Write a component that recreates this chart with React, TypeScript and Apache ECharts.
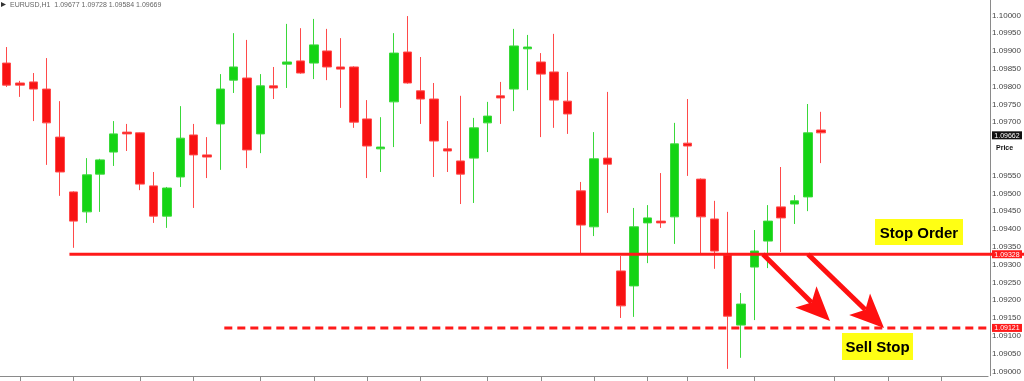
import React, { useEffect, useRef } from "react";
import * as echarts from "echarts";

const categories = [
  "03/04 00:00","03/04 01:00","03/04 02:00","03/04 03:00","03/04 04:00","03/04 05:00","03/04 06:00","03/04 07:00",
  "03/04 08:00","03/04 09:00","03/04 10:00","03/04 11:00","03/04 12:00","03/04 13:00","03/04 14:00","03/04 15:00",
  "03/04 16:00","03/04 17:00","03/04 18:00","03/04 19:00","03/04 20:00","03/04 21:00","03/04 22:00","03/04 23:00",
  "03/05 00:00","03/05 01:00","03/05 02:00","03/05 03:00","03/05 04:00","03/05 05:00","03/05 06:00","03/05 07:00",
  "03/05 08:00","03/05 09:00","03/05 10:00","03/05 11:00","03/05 12:00","03/05 13:00","03/05 14:00","03/05 15:00",
  "03/05 16:00","03/05 17:00","03/05 18:00","03/05 19:00","03/05 20:00","03/05 21:00","03/05 22:00","03/05 23:00",
  "03/06 00:00","03/06 01:00","03/06 02:00","03/06 03:00","03/06 04:00","03/06 05:00","03/06 06:00","03/06 07:00",
  "03/06 08:00","03/06 09:00","03/06 10:00","03/06 11:00","03/06 12:00","03/06 13:00","03/06 14:00","03/06 15:00",
  "03/06 16:00","03/06 17:00","03/06 18:00","03/06 19:00","03/06 20:00","03/06 21:00","03/06 22:00","03/06 23:00",
  "03/07 00:00","03/07 01:00"
];

const opens = [
  1.09865,1.09809,1.09812,1.09792,1.09657,1.09503,1.09447,1.09553,1.09615,1.09671,
  1.09669,1.09520,1.09435,1.09545,1.09663,1.09607,1.09694,1.09817,1.09823,1.09666,
  1.09801,1.09862,1.09871,1.09865,1.09899,1.09854,1.09854,1.09708,1.09624,1.09756,
  1.09896,1.09787,1.09764,1.09624,1.09590,1.09598,1.09697,1.09773,1.09792,1.09905,
  1.09868,1.09840,1.09758,1.09506,1.09405,1.09598,1.09281,1.09239,1.09416,1.09421,
  1.09433,1.09640,1.09539,1.09427,1.09326,1.09129,1.09292,1.09365,1.09461,1.09469,
  1.09489,1.09677
];
const closes = [
  1.09803,1.09803,1.09792,1.09697,1.09559,1.09421,1.09551,1.09593,1.09666,1.09666,
  1.09525,1.09435,1.09514,1.09654,1.09607,1.09601,1.09792,1.09854,1.09621,1.09801,
  1.09795,1.09868,1.09837,1.09916,1.09854,1.09848,1.09699,1.09632,1.09629,1.09893,
  1.09809,1.09764,1.09646,1.09618,1.09553,1.09683,1.09716,1.09767,1.09913,1.09910,
  1.09834,1.09761,1.09722,1.09410,1.09596,1.09581,1.09183,1.09405,1.09430,1.09416,
  1.09638,1.09632,1.09433,1.09337,1.09154,1.09188,1.09337,1.09421,1.09430,1.09478,
  1.09669,1.09669
];
const lows = [
  1.09798,1.09770,1.09702,1.09579,1.09492,1.09346,1.09416,1.09447,1.09576,1.09618,
  1.09508,1.09416,1.09402,1.09517,1.09458,1.09542,1.09565,1.09781,1.09570,1.09612,
  1.09764,1.09795,1.09835,1.09820,1.09817,1.09739,1.09683,1.09542,1.09559,1.09629,
  1.09807,1.09694,1.09545,1.09559,1.09469,1.09472,1.09615,1.09694,1.09730,1.09789,
  1.09657,1.09683,1.09666,1.09326,1.09379,1.09444,1.09149,1.09152,1.09303,1.09402,
  1.09357,1.09548,1.09331,1.09287,1.09006,1.09037,1.09143,1.09289,1.09334,1.09413,
  1.09449,1.09584
];
const highs = [
  1.09910,1.09815,1.09837,1.09879,1.09758,1.09505,1.09598,1.09596,1.09702,1.09694,
  1.09670,1.09559,1.09517,1.09744,1.09694,1.09657,1.09834,1.09949,1.09930,1.09834,
  1.09854,1.09975,1.09963,1.09989,1.09961,1.09935,1.09856,1.09761,1.09713,1.09949,
  1.09997,1.09882,1.09809,1.09702,1.09773,1.09711,1.09756,1.09812,1.09961,1.09944,
  1.09893,1.09947,1.09840,1.09531,1.09671,1.09784,1.09323,1.09458,1.09466,1.09556,
  1.09697,1.09764,1.09541,1.09478,1.09447,1.09219,1.09396,1.09466,1.09573,1.09494,
  1.09750,1.09728
];

const yMin = 1.09;
const yMax = 1.1;
const yInterval = 0.0005;
const hiddenTickLabels = ["1.09650", "1.09600"];
const stopLevel = 1.09328;
const sellStopLevel = 1.09121;
const lastPrice = 1.09662;
const tickIndices = [1, 5, 10, 14, 19, 23, 27, 31, 36, 40, 44, 48, 51, 56, 62, 66, 70];
const titleText = "EURUSD,H1  1.09677 1.09728 1.09584 1.09669";
const priceTag = "Price";
const stopLabel = "Stop Order";
const sellLabel = "Sell Stop";

const RED = "#f81212";
const GREEN = "#14d414";

function arrow(x1: number, y1: number, x2: number, y2: number, headLen = 34, headHalf = 15, notch = 8) {
  const dx = x2 - x1, dy = y2 - y1;
  const L = Math.hypot(dx, dy);
  const ux = dx / L, uy = dy / L, nx = -uy, ny = ux;
  const bx = x2 - ux * headLen, by = y2 - uy * headLen;
  const mx = bx + ux * notch, my = by + uy * notch;
  return [
    { type: "line", z: 50, shape: { x1, y1, x2: mx, y2: my }, style: { stroke: "#ff1010", lineWidth: 5 } },
    {
      type: "polygon", z: 50,
      shape: { points: [[x2, y2], [bx + nx * headHalf, by + ny * headHalf], [mx, my], [bx - nx * headHalf, by - ny * headHalf]] },
      style: { fill: "#ff1010" },
    },
  ];
}

export default function App() {
  const ref = useRef<HTMLDivElement>(null);
  useEffect(() => {
    const chart = echarts.init(ref.current!, null, { renderer: "svg" });
    const candles = opens.map((o, i) => [o, closes[i], lows[i], highs[i]]);
    chart.setOption({
      animation: false,
      grid: { left: 0, right: 34, top: 15, bottom: 10 },
      xAxis: {
        type: "category",
        data: categories,
        boundaryGap: true,
        offset: 5,
        axisLine: { lineStyle: { color: "#8a8a8a", width: 1 } },
        axisTick: {
          show: true,
          alignWithLabel: true,
          length: 5,
          interval: (i: number) => tickIndices.includes(i),
          lineStyle: { color: "#8a8a8a" },
        },
        axisLabel: { show: false },
        splitLine: { show: false },
      },
      yAxis: {
        type: "value",
        position: "right",
        min: yMin,
        max: yMax,
        interval: yInterval,
        axisLine: { show: false },
        axisTick: { show: false },
        splitLine: { show: false },
        axisLabel: {
          fontSize: 8,
          color: "#444",
          margin: 4,
          fontFamily: "Liberation Sans, Arial, sans-serif",
          formatter: (v: number) => {
            const s = v.toFixed(5);
            return hiddenTickLabels.includes(s) ? "" : s;
          },
        },
      },
      series: [
        {
          type: "candlestick",
          data: candles,
          barWidth: 9,
          clip: false,
          itemStyle: {
            color: GREEN,
            color0: RED,
            borderColor: "#3ad83a",
            borderColor0: "#ff4a4a",
            borderWidth: 1,
          },
        },
      ],
    });

    const py = (v: number) => chart.convertToPixel({ yAxisIndex: 0 }, v) as number;
    const px = (c: string) => chart.convertToPixel({ xAxisIndex: 0 }, c) as number;
    const ySolid = py(stopLevel);
    const yDash = py(sellStopLevel);
    const yLast = py(lastPrice);
    const xSolid = px(categories[5]) - 4;
    const xDash = px(categories[16]) + 4;
    const axisX = 990.5;

    const levelBox = (y: number, v: number, bg: string) => [
      { type: "rect", z: 60, shape: { x: 992, y: y - 4, width: 30, height: 8 }, style: { fill: bg } },
      {
        type: "text", z: 61, x: 1007, y: y,
        style: { text: v.toFixed(5), fill: "#fff", font: "7px Liberation Sans, Arial, sans-serif", align: "center", verticalAlign: "middle" },
      },
    ];

    chart.setOption({
      graphic: [
        { type: "line", z: 40, shape: { x1: axisX, y1: 0, x2: axisX, y2: 376 }, style: { stroke: "#8a8a8a", lineWidth: 1 } },
        { type: "line", z: 45, shape: { x1: xSolid, y1: ySolid, x2: 1024, y2: ySolid }, style: { stroke: "#ff1a1a", lineWidth: 3 } },
        { type: "line", z: 45, shape: { x1: xDash, y1: yDash, x2: 990, y2: yDash }, style: { stroke: "#ff1a1a", lineWidth: 3, lineDash: [8, 5] } },
        ...arrow(763, ySolid, 830, yDash - 7),
        ...arrow(808, ySolid, 884, yDash),
        ...levelBox(ySolid, stopLevel, "#ff1a1a"),
        ...levelBox(yDash, sellStopLevel, "#ff1a1a"),
        ...levelBox(yLast, lastPrice, "#111"),
        {
          type: "text", z: 61, x: 996, y: yLast + 12,
          style: { text: priceTag, fill: "#111", font: "bold 7px Liberation Sans, Arial, sans-serif", verticalAlign: "middle" },
        },
        { type: "rect", z: 70, shape: { x: 875, y: 219, width: 88, height: 26 }, style: { fill: "#ffff14" } },
        {
          type: "text", z: 71, x: 919, y: 232,
          style: { text: stopLabel, fill: "#000", font: "bold 15px Liberation Sans, Arial, sans-serif", align: "center", verticalAlign: "middle" },
        },
        { type: "rect", z: 70, shape: { x: 842, y: 333, width: 71, height: 27 }, style: { fill: "#ffff14" } },
        {
          type: "text", z: 71, x: 877.5, y: 346.5,
          style: { text: sellLabel, fill: "#000", font: "bold 15px Liberation Sans, Arial, sans-serif", align: "center", verticalAlign: "middle" },
        },
        { type: "polygon", z: 60, shape: { points: [[1, 2], [6, 4.5], [1, 7]] }, style: { fill: "#333" } },
        {
          type: "text", z: 61, x: 10, y: 4.5,
          style: { text: titleText, fill: "#666", font: "7px Liberation Sans, Arial, sans-serif", verticalAlign: "middle" },
        },
      ],
    });

    return () => chart.dispose();
  }, []);
  return <div ref={ref} style={{ position: "fixed", left: 0, top: 0, width: 1024, height: 381 }} />;
}
